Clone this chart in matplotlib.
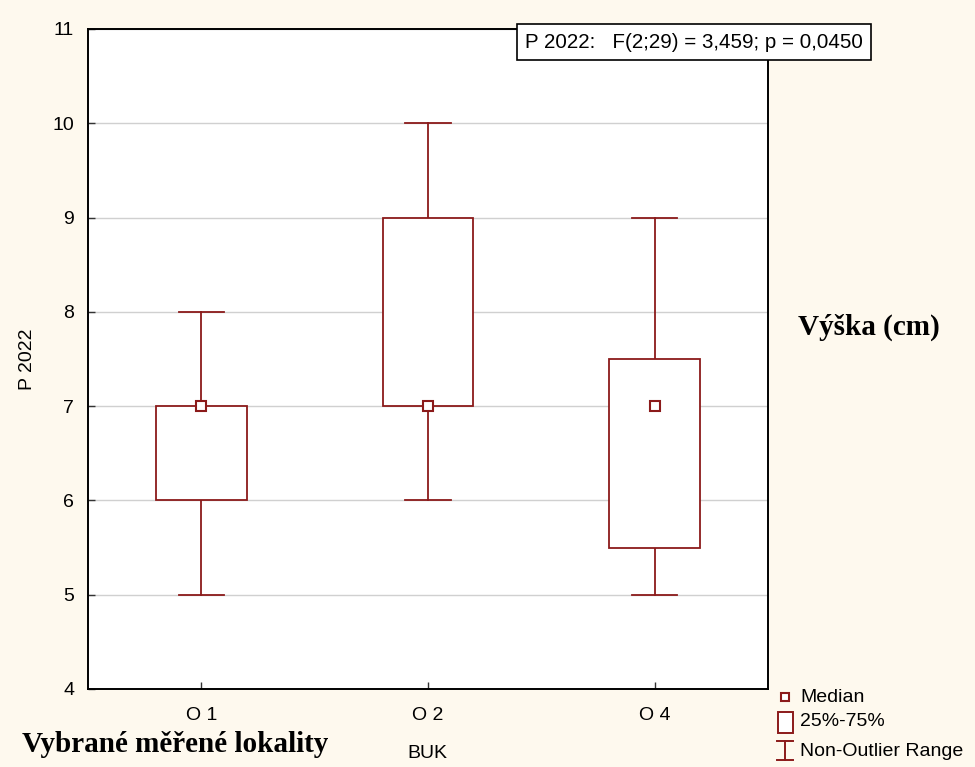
import matplotlib.pyplot as plt
from matplotlib.lines import Line2D
from matplotlib.patches import Rectangle

plt.rcParams['font.family'] = ['Liberation Sans', 'DejaVu Sans']

sites = ['O 1', 'O 2', 'O 4']
medians = [7, 7, 7]
q1 = [6, 7, 5.5]
q3 = [7, 9, 7.5]
wlow = [5, 6, 5]
whigh = [8, 10, 9]
legend_labels = ['Median', '25%-75%', 'Non-Outlier Range']

red = '#8b1a1a'
bg = '#fef9ee'
W, H = 975, 767

fig = plt.figure(figsize=(9.75, 7.67), dpi=100, facecolor=bg)
ax = fig.add_axes([0.0903, 0.1017, 0.6974, 0.8605])
ax.set_facecolor('white')

bw = 0.4
cw = 0.2
for i in range(len(sites)):
    ax.plot([i, i], [wlow[i], q1[i]], color=red, lw=1.3, zorder=3)
    ax.plot([i, i], [q3[i], whigh[i]], color=red, lw=1.3, zorder=3)
    ax.plot([i - cw / 2, i + cw / 2], [wlow[i], wlow[i]], color=red, lw=1.3, zorder=3)
    ax.plot([i - cw / 2, i + cw / 2], [whigh[i], whigh[i]], color=red, lw=1.3, zorder=3)
    ax.add_patch(Rectangle((i - bw / 2, q1[i]), bw, q3[i] - q1[i],
                           facecolor='white', edgecolor=red, lw=1.3, zorder=3))
    ax.plot(i, medians[i], marker='s', ms=7, mfc='white', mec=red, mew=1.5, zorder=4)

ax.set_xlim(-0.5, 2.5)
ax.set_ylim(4, 11)
ax.set_xticks(range(len(sites)))
ax.set_xticklabels(sites)
ax.set_yticks(range(4, 12))
ax.yaxis.grid(True, color='#d0d0d0', lw=1)
ax.set_axisbelow(True)
ax.tick_params(labelsize=14, length=5, width=1, color='#333333', direction='in')
ax.tick_params(axis='y', pad=10)
ax.tick_params(axis='x', pad=13)
for s in ax.spines.values():
    s.set_linewidth(1.4)

ax.set_ylabel('P 2022', fontsize=14, labelpad=12)
fig.text(427 / W, 1 - 753 / H, 'BUK', ha='center', va='center', fontsize=14)

fig.text(525 / W, 1 - 42 / H, 'P 2022:   F(2;29) = 3,459; p = 0,0450',
         ha='left', va='center', fontsize=14.8,
         bbox=dict(boxstyle='square,pad=0.4', facecolor='white', edgecolor='black', lw=1.2))

fig.text(798 / W, 1 - 327 / H, 'Výška (cm)', family='Liberation Serif',
         fontweight='bold', fontsize=21, ha='left', va='center')
fig.text(22 / W, 1 - 745 / H, 'Vybrané měřené lokality', family='Liberation Serif',
         fontweight='bold', fontsize=21, ha='left', va='center')

# legend drawn by hand in pixel coordinates
lx = 785
fig.add_artist(Line2D([lx / W], [1 - 697 / H], ls='none', marker='s', ms=6,
                      mfc='white', mec=red, mew=1.5, transform=fig.transFigure))
fig.add_artist(Rectangle(((lx - 7) / W, 1 - 733 / H), 15 / W, 21 / H, facecolor='white',
                         edgecolor=red, lw=1.4, transform=fig.transFigure))
fig.add_artist(Line2D([lx / W, lx / W], [1 - 741 / H, 1 - 760 / H], color=red, lw=1.4,
                      transform=fig.transFigure))
for yy in (741, 760):
    fig.add_artist(Line2D([(lx - 8) / W, (lx + 8) / W], [1 - yy / H, 1 - yy / H],
                          color=red, lw=1.4, transform=fig.transFigure))
for lab, yy in zip(legend_labels, (697, 722, 751)):
    fig.text(800 / W, 1 - yy / H, lab, ha='left', va='center', fontsize=14)

fig.savefig('out.png', dpi=100, facecolor=bg)
